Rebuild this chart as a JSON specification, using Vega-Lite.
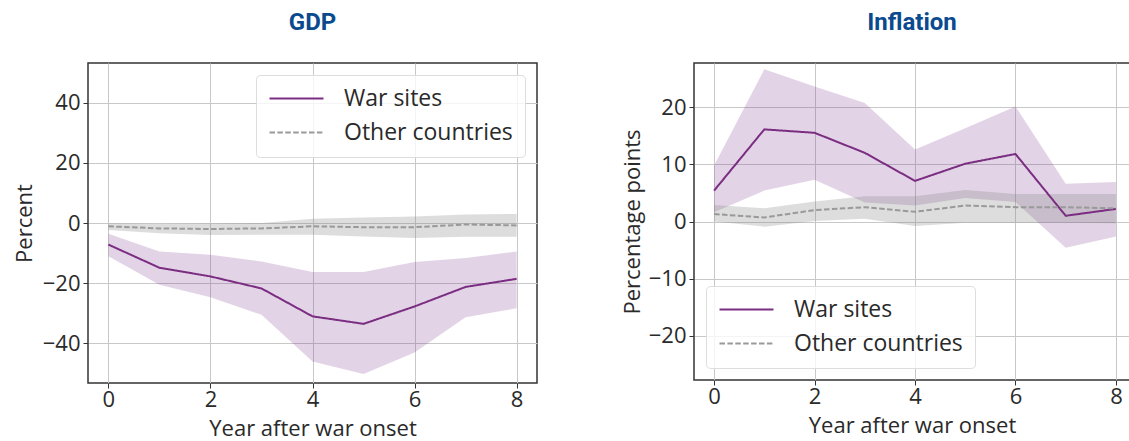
{
  "$schema": "https://vega.github.io/schema/vega-lite/v6.json",
  "padding": {"left": 12, "top": 10, "right": 0, "bottom": 0},
  "spacing": 82,
  "datasets": {
    "gdp": [
      {"year": 0, "series": "War sites", "mid": -7.2, "lo": -11.1, "hi": -3.6},
      {"year": 1, "series": "War sites", "mid": -14.9, "lo": -20.6, "hi": -9.5},
      {"year": 2, "series": "War sites", "mid": -17.8, "lo": -24.7, "hi": -10.6},
      {"year": 3, "series": "War sites", "mid": -21.8, "lo": -30.6, "hi": -12.8},
      {"year": 4, "series": "War sites", "mid": -31.1, "lo": -46.1, "hi": -16.3},
      {"year": 5, "series": "War sites", "mid": -33.6, "lo": -50.3, "hi": -16.3},
      {"year": 6, "series": "War sites", "mid": -27.8, "lo": -43.1, "hi": -13.0},
      {"year": 7, "series": "War sites", "mid": -21.3, "lo": -31.4, "hi": -11.7},
      {"year": 8, "series": "War sites", "mid": -18.6, "lo": -28.4, "hi": -9.5},
      {"year": 0, "series": "Other countries", "mid": -1.1, "lo": -2.3, "hi": -0.2},
      {"year": 1, "series": "Other countries", "mid": -1.8, "lo": -3.4, "hi": -0.3},
      {"year": 2, "series": "Other countries", "mid": -2.0, "lo": -4.0, "hi": -0.2},
      {"year": 3, "series": "Other countries", "mid": -1.8, "lo": -3.9, "hi": 0.0},
      {"year": 4, "series": "Other countries", "mid": -1.1, "lo": -3.9, "hi": 1.4},
      {"year": 5, "series": "Other countries", "mid": -1.4, "lo": -4.5, "hi": 1.8},
      {"year": 6, "series": "Other countries", "mid": -1.4, "lo": -5.0, "hi": 2.2},
      {"year": 7, "series": "Other countries", "mid": -0.5, "lo": -4.6, "hi": 2.8},
      {"year": 8, "series": "Other countries", "mid": -0.8, "lo": -4.6, "hi": 3.0}
    ],
    "infl": [
      {"year": 0, "series": "War sites", "mid": 5.4, "lo": 1.6, "hi": 9.8},
      {"year": 1, "series": "War sites", "mid": 16.1, "lo": 5.4, "hi": 26.6},
      {"year": 2, "series": "War sites", "mid": 15.5, "lo": 7.3, "hi": 23.6},
      {"year": 3, "series": "War sites", "mid": 12.0, "lo": 3.3, "hi": 20.7},
      {"year": 4, "series": "War sites", "mid": 7.1, "lo": 2.8, "hi": 12.6},
      {"year": 5, "series": "War sites", "mid": 10.1, "lo": 4.1, "hi": 16.3},
      {"year": 6, "series": "War sites", "mid": 11.8, "lo": 3.4, "hi": 20.1},
      {"year": 7, "series": "War sites", "mid": 1.0, "lo": -4.6, "hi": 6.6},
      {"year": 8, "series": "War sites", "mid": 2.2, "lo": -2.6, "hi": 6.9},
      {"year": 0, "series": "Other countries", "mid": 1.3, "lo": 0.0, "hi": 2.9},
      {"year": 1, "series": "Other countries", "mid": 0.7, "lo": -0.9, "hi": 2.3},
      {"year": 2, "series": "Other countries", "mid": 2.0, "lo": 0.1, "hi": 3.5},
      {"year": 3, "series": "Other countries", "mid": 2.5, "lo": 0.5, "hi": 4.4},
      {"year": 4, "series": "Other countries", "mid": 1.7, "lo": -0.8, "hi": 4.4},
      {"year": 5, "series": "Other countries", "mid": 2.8, "lo": -0.2, "hi": 5.5},
      {"year": 6, "series": "Other countries", "mid": 2.5, "lo": -0.2, "hi": 4.8},
      {"year": 7, "series": "Other countries", "mid": 2.5, "lo": -0.2, "hi": 4.8},
      {"year": 8, "series": "Other countries", "mid": 2.3, "lo": -0.3, "hi": 4.8}
    ]
  },
  "config": {
    "font": "Open Sans",
    "view": {"stroke": "#333333", "strokeWidth": 1.5},
    "axis": {
      "grid": true, "gridColor": "#c8c8c8", "gridWidth": 1,
      "domain": false, "tickColor": "#333333", "tickSize": 5, "tickWidth": 1,
      "labelFontSize": 22, "labelColor": "#2a2a2a", "labelPadding": 3,
      "titleFontSize": 22, "titleFontWeight": "normal", "titleColor": "#2a2a2a"
    },
    "axisX": {"labelPadding": 1, "titlePadding": 8},
    "legend": {
      "title": null,
      "labelFontSize": 23, "labelColor": "#2a2a2a", "labelLimit": 400,
      "symbolType": "M-1,0H4.4", "symbolSize": 400, "symbolStrokeWidth": 2,
      "fillColor": "rgba(255,255,255,0.8)", "strokeColor": "#dddddd",
      "cornerRadius": 4, "padding": 12, "rowPadding": 10, "labelOffset": 53,
      "offset": 12
    },
    "title": {"fontSize": 24, "fontWeight": "bold", "color": "#0b4a8e", "font": "Roboto", "offset": 28}
  },
  "hconcat": [
    {
      "title": "GDP",
      "width": 449, "height": 320,
      "data": {"name": "gdp"},
      "encoding": {
        "x": {"field": "year", "type": "quantitative", "scale": {"domain": [-0.4, 8.4], "nice": false, "zero": false},
              "axis": {"values": [0, 2, 4, 6, 8], "title": "Year after war onset"}}
      },
      "layer": [
        {"transform": [{"filter": "datum.series === 'War sites'"}],
         "mark": {"type": "area", "color": "#7d3c8c", "opacity": 0.22},
         "encoding": {"y": {"field": "lo", "type": "quantitative", "scale": {"domain": [-53.3, 53.3], "nice": false},
                            "axis": {"values": [-40, -20, 0, 20, 40], "title": "Percent", "titlePadding": 6}},
                      "y2": {"field": "hi"}}},
        {"transform": [{"filter": "datum.series === 'Other countries'"}],
         "mark": {"type": "area", "color": "#808080", "opacity": 0.27},
         "encoding": {"y": {"field": "lo", "type": "quantitative"}, "y2": {"field": "hi"}}},
        {"mark": {"type": "rule", "color": "#333333", "strokeWidth": 1.5},
         "encoding": {"y": {"datum": 0}}},
        {"mark": {"type": "line", "strokeWidth": 2},
         "encoding": {
           "y": {"field": "mid", "type": "quantitative"},
           "color": {"field": "series", "type": "nominal",
                     "scale": {"domain": ["War sites", "Other countries"], "range": ["#7b2d82", "#999999"]},
                     "legend": {"orient": "top-right"}},
           "strokeDash": {"field": "series", "type": "nominal",
                          "scale": {"domain": ["War sites", "Other countries"], "range": [[1, 0], [5.5, 2.4]]},
                          "legend": {"orient": "top-right"}}
         }}
      ]
    },
    {
      "title": "Inflation",
      "width": 436, "height": 317,
      "data": {"name": "infl"},
      "encoding": {
        "x": {"field": "year", "type": "quantitative", "scale": {"domain": [-0.4, 8.28], "nice": false, "zero": false},
              "axis": {"values": [0, 2, 4, 6, 8], "title": "Year after war onset"}}
      },
      "layer": [
        {"transform": [{"filter": "datum.series === 'War sites'"}],
         "mark": {"type": "area", "color": "#7d3c8c", "opacity": 0.22},
         "encoding": {"y": {"field": "lo", "type": "quantitative", "scale": {"domain": [-27.7, 27.7], "nice": false},
                            "axis": {"values": [-20, -10, 0, 10, 20], "title": "Percentage points", "titlePadding": 4}},
                      "y2": {"field": "hi"}}},
        {"transform": [{"filter": "datum.series === 'Other countries'"}],
         "mark": {"type": "area", "color": "#808080", "opacity": 0.27},
         "encoding": {"y": {"field": "lo", "type": "quantitative"}, "y2": {"field": "hi"}}},
        {"mark": {"type": "rule", "color": "#333333", "strokeWidth": 1.5},
         "encoding": {"y": {"datum": 0}}},
        {"mark": {"type": "line", "strokeWidth": 2},
         "encoding": {
           "y": {"field": "mid", "type": "quantitative"},
           "color": {"field": "series", "type": "nominal",
                     "scale": {"domain": ["War sites", "Other countries"], "range": ["#7b2d82", "#999999"]},
                     "legend": {"orient": "bottom-left"}},
           "strokeDash": {"field": "series", "type": "nominal",
                          "scale": {"domain": ["War sites", "Other countries"], "range": [[1, 0], [5.5, 2.4]]},
                          "legend": {"orient": "bottom-left"}}
         }}
      ]
    }
  ],
  "resolve": {"scale": {"color": "independent", "strokeDash": "independent"}, "legend": {"color": "independent", "strokeDash": "independent"}}
}
